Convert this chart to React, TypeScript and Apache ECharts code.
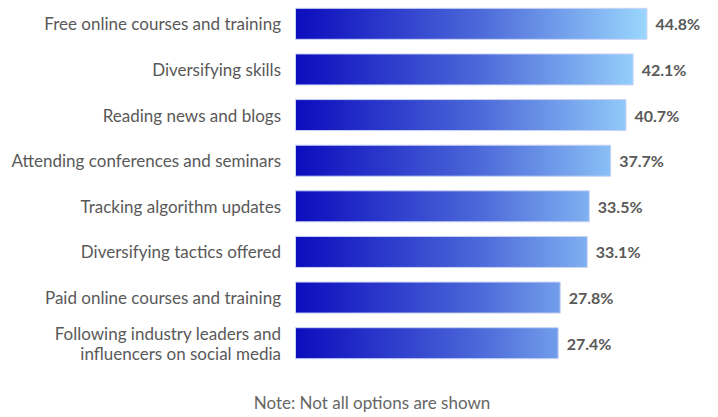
import React, { useEffect, useRef } from "react";
import * as echarts from "echarts";

const categories = [
  "Free online courses and training",
  "Diversifying skills",
  "Reading news and blogs",
  "Attending conferences and seminars",
  "Tracking algorithm updates",
  "Diversifying tactics offered",
  "Paid online courses and training",
  "Following industry leaders and\ninfluencers on social media",
];
const values = [44.8, 42.1, 40.7, 37.7, 33.5, 33.1, 27.8, 27.4];
const noteText = "Note: Not all options are shown";

// the reference's bars are drawn from a baseline below zero (axis starts at -barBaseline)
const barBaseline = 24.3;

const FONT = "Lato, 'Liberation Sans', sans-serif";
const TEXT = "#595959";

export default function App() {
  const ref = useRef<HTMLDivElement>(null);
  useEffect(() => {
    if (!ref.current) return;
    const chart = echarts.init(ref.current, undefined, { renderer: "svg" });
    const gradient = new echarts.graphic.LinearGradient(
      295, 0, 655, 0,
      [
        { offset: 0, color: "#0c0cbd" },
        { offset: 0.5, color: "#4a66d8" },
        { offset: 1, color: "#9edcff" },
      ],
      true
    );
    chart.setOption({
      animation: false,
      grid: { left: 295, right: 15, top: 1, bottom: 51, containLabel: false },
      xAxis: { type: "value", min: 0, max: 80, show: false },
      yAxis: {
        type: "category",
        data: categories,
        inverse: true,
        axisLine: { show: false },
        axisTick: { show: false },
        axisLabel: {
          color: TEXT,
          fontFamily: FONT,
          fontSize: 17,
          margin: 14,
          lineHeight: 20,
          align: "right",
        },
      },
      series: [
        {
          type: "bar",
          data: values.map((v) => ({ value: v + barBaseline, raw: v })),
          barWidth: 32,
          itemStyle: { color: gradient, borderColor: "#c9d3f6", borderWidth: 1 },
          label: {
            show: true,
            position: "right",
            distance: 8,
            formatter: (p: any) => `${values[p.dataIndex].toFixed(1)}%`,
            color: TEXT,
            fontFamily: FONT,
            fontSize: 16,
            fontWeight: "bold",
          },
        },
      ],
      graphic: [
        {
          type: "text",
          x: 372,
          y: 402,
          style: {
            text: noteText,
            fill: "#666666",
            font: `17px ${FONT}`,
            textAlign: "center",
            textVerticalAlign: "middle",
          },
        },
      ],
    });
    return () => chart.dispose();
  }, []);
  return (
    <div
      ref={ref}
      style={{ position: "fixed", left: 0, top: 0, width: 718, height: 417, background: "#fff" }}
    />
  );
}
